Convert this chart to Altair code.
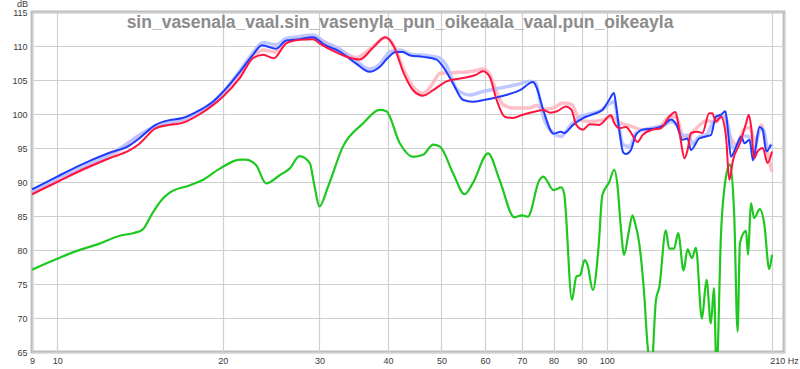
import altair as alt
import pandas as pd

TITLE = "sin_vasenala_vaal.sin_vasenyla_pun_oikeaala_vaal.pun_oikeayla"

# ---- blue (solid) ----
f_blue = [9, 10, 11.1, 12.45, 13.5, 14.1, 15.1, 16.0, 16.9, 18.2, 19.2, 20.0, 21.5, 22.7, 23.6, 25.0,
          26.1, 27.6, 29.2, 30.6, 32.6, 35.0, 37.0, 38.6, 40.0, 41.3, 42.5, 43.9, 46.3, 49.0, 50.3, 52.5,
          54.7, 57.0, 60.0, 65.6, 69.5, 73.4, 74.4, 76.6, 80.0, 82.5, 83.6, 86.8, 90.5, 93.1, 98.1, 101.0,
          103.0, 103.8, 105.3, 107.0, 108.3, 110.6, 112.9, 116.1, 122.8, 127.2, 130.7, 133.9, 137.3, 140.2,
          142.2, 147.2, 151.4, 154.6, 157.9, 161.3, 164.3, 165.9, 168.2, 171.9, 175.5, 178.0, 181.8, 184.4,
          189.6, 192.1, 195.0, 198.9]
db_blue = [88.9, 90.8, 92.6, 94.3, 95.3, 96.4, 98.4, 99.1, 99.4, 100.6, 101.8, 103.2, 106.2, 108.7, 110.1, 109.6,
           110.8, 111.0, 111.3, 110.2, 109.2, 107.4, 106.2, 106.9, 108.3, 109.1, 109.1, 108.6, 108.4, 108.0, 107.0, 104.5,
           102.1, 101.8, 102.1, 102.8, 103.5, 104.7, 104.0, 100.6, 97.1, 97.4, 97.2, 98.4, 99.4, 99.8, 100.6, 102.1,
           103.1, 101.6, 97.7, 94.4, 94.1, 94.7, 96.9, 97.7, 97.9, 98.4, 99.2, 98.4, 96.2, 96.4,
           94.7, 96.4, 96.7, 96.9, 99.6, 99.9, 100.4, 97.9, 93.7, 95.2, 96.7, 95.7, 96.2, 93.2,
           98.1, 97.7, 94.5, 95.5]

# ---- light blue (pale) ----
f_lblue = [9, 10, 12.45, 15.1, 16.9, 18.2, 20.0, 21.5, 22.7, 23.7, 25.0, 26.1, 27.6, 29.2, 30.6, 32.6, 35.0,
           37.0, 38.6, 40.4, 42.0, 44.0, 47.0, 49.5, 51.0, 53.4, 56.3, 59.5, 63.8, 68.4, 72.5, 74.2, 76.6, 80.0,
           82.6, 85.6, 89.4, 93.0, 98.0, 101.0, 103.0, 105.0, 107.0, 110.0, 113.0, 120.0, 127.0, 131.0, 134.0,
           137.5, 141.0, 143.0, 147.0, 152.0, 156.0, 160.0, 164.0, 166.5, 169.0, 173.0, 177.0, 182.0, 185.0,
           190.0, 193.0, 196.0, 199.5]
db_lblue = [88.6, 90.5, 94.0, 98.2, 99.2, 100.4, 103.1, 106.4, 109.0, 110.5, 110.2, 111.1, 111.4, 111.6, 110.6, 109.6, 107.8,
            106.6, 107.3, 109.2, 109.4, 108.8, 108.6, 108.3, 107.2, 103.6, 102.8, 103.3, 103.8, 104.3, 104.8, 104.6, 99.6, 97.2,
            96.7, 98.2, 99.6, 100.0, 100.6, 101.5, 101.8, 98.5, 95.5, 95.2, 97.2, 97.9, 98.3, 98.9, 98.4,
            96.8, 96.9, 95.6, 96.6, 97.0, 98.8, 99.5, 99.6, 98.0, 95.0, 95.6, 96.8, 96.6, 94.5,
            97.8, 97.6, 95.0, 95.6]

# ---- red (solid) ----
f_red = [9, 10, 11.1, 12.45, 13.5, 14.1, 15.1, 16.0, 16.9, 18.2, 19.2, 20.0, 21.5, 22.7, 23.7, 24.8, 26.1,
         27.6, 29.2, 30.0, 31.9, 33.4, 35.5, 37.5, 39.5, 41.0, 42.7, 44.4, 46.3, 48.3, 51.1, 54.7, 57.9, 59.5,
         61.2, 63.0, 65.2, 67.4, 70.3, 74.4, 76.6, 78.9, 81.2, 84.2, 86.2, 88.0, 90.5, 93.1, 96.8, 101.7,
         103.1, 105.3, 108.3, 111.3, 113.7, 116.1, 121.1, 125.4, 129.8, 133.2, 134.5, 136.4, 138.4, 140.2,
         142.2, 146.2, 149.2, 153.5, 155.5, 157.9, 161.3, 164.7, 167.0, 169.6, 174.6, 179.1, 181.2, 183.0,
         185.3, 188.0, 192.1, 196.0, 199.7]
db_red = [88.2, 90.0, 91.8, 93.5, 94.6, 95.6, 97.9, 98.4, 98.7, 100.0, 101.3, 102.5, 105.3, 108.2, 108.7, 108.2, 110.4,
          110.9, 111.0, 110.4, 109.2, 108.5, 108.0, 109.7, 111.3, 109.9, 106.0, 103.5, 102.7, 103.5, 104.8, 105.3, 105.8, 106.3,
          105.5, 102.1, 99.6, 99.4, 99.9, 100.4, 100.6, 100.2, 100.4, 101.1, 100.6, 98.4, 97.7, 98.5, 98.4, 99.8,
          98.7, 97.9, 98.1, 96.9, 95.9, 96.9, 97.7, 97.9, 99.6, 100.3, 99.1, 95.9, 93.5, 94.7,
          97.2, 97.4, 97.2, 100.1, 100.1, 98.9, 99.6, 96.7, 90.3, 93.2, 95.7, 98.6, 99.9, 98.1,
          93.5, 94.5, 95.0, 92.8, 94.5]

# ---- pink (pale) ----
f_pink = [9, 10, 12.45, 15.1, 16.9, 18.2, 20.0, 21.5, 22.7, 23.7, 25.0, 26.1, 27.6, 29.2, 30.5, 32.6, 35.0,
          37.5, 39.7, 41.0, 42.7, 44.4, 46.3, 48.3, 49.7, 53.4, 57.0, 59.5, 61.0, 63.0, 64.7, 67.4, 72.5, 74.4,
          76.6, 80.0, 83.0, 86.2, 89.4, 93.1, 98.0, 102.0, 105.0, 110.0, 116.0, 125.0, 130.0, 134.0, 137.0,
          140.0, 145.0, 152.0, 158.0, 162.0, 165.0, 168.0, 172.0, 178.0, 182.0, 186.0, 191.0, 195.0, 199.7]
db_pink = [88.4, 90.2, 93.7, 98.1, 98.9, 100.2, 102.8, 105.6, 108.4, 109.4, 109.1, 110.7, 111.1, 111.3, 110.7, 109.4, 108.3,
           109.9, 111.3, 110.0, 106.5, 104.0, 103.0, 104.6, 106.0, 106.1, 106.3, 106.6, 106.0, 103.3, 101.4, 100.9, 100.9, 101.3,
           100.7, 100.9, 101.6, 101.4, 99.1, 98.9, 99.1, 99.6, 98.8, 98.3, 97.7, 98.2, 99.6, 99.5, 97.0,
           96.5, 97.8, 99.0, 98.8, 99.7, 98.0, 96.5, 95.5, 97.8, 98.0, 96.0, 98.4, 95.0, 91.5]

# ---- green ----
f_green = [9, 10, 10.8, 11.9, 13.0, 13.8, 14.3, 14.9, 15.5, 16.0, 17.4, 18.4, 19.8, 21.5, 22.0, 23.0, 24.0,
           25.4, 26.5, 27.6, 28.8, 29.4, 30.0, 31.1, 33.1, 36.0, 38.6, 39.7, 42.0, 44.4, 46.3, 48.3, 49.7,
           52.5, 55.1, 57.0, 60.8, 63.8, 67.9, 70.0, 71.8, 75.4, 76.6, 80.0, 82.6, 83.6, 86.4, 88.0, 89.4,
           91.1, 92.2, 94.3, 96.6, 98.1, 101.0, 103.1, 104.6, 106.0, 107.5, 109.5, 111.3, 112.5, 114.5, 116.9,
           118.5, 120.5, 122.8, 124.6, 128.0, 129.8, 132.5, 134.8, 137.9, 140.2, 142.8, 145.2, 148.9, 151.8,
           154.6, 156.6, 158.3, 161.3, 164.7, 167.5, 170.5, 172.9, 174.6, 179.1, 180.7, 182.8, 185.3, 189.8,
           193.3, 197.4, 199.7]
db_green = [77.1, 78.7, 79.8, 80.9, 82.1, 82.5, 83.0, 85.4, 87.4, 88.4, 89.5, 90.3, 92.0, 93.3, 93.3, 92.5, 89.8,
            91.0, 92.0, 93.8, 92.8, 89.3, 86.4, 89.3, 95.2, 98.6, 100.6, 100.4, 95.7, 93.7, 94.0, 95.5, 95.2,
            91.3, 88.2, 89.8, 94.2, 90.3, 84.8, 85.1, 84.9, 90.3, 90.8, 88.8, 89.2, 88.3, 72.7, 76.1, 76.3,
            78.5, 77.8, 74.1, 80.5, 88.0, 90.0, 91.8, 89.3, 83.4, 79.3, 82.5, 85.1, 84.0, 81.0, 73.6,
            66.3, 62.5, 72.6, 74.6, 82.9, 80.2, 80.2, 82.5, 77.0, 80.1, 78.8, 80.3, 69.9, 75.6,
            69.2, 74.4, 62.0, 82.4, 90.8, 92.6, 85.0, 68.0, 81.0, 82.8, 79.3, 86.9, 84.7, 86.0,
            83.9, 77.2, 79.3]

x_ticks = [9, 10, 20, 30, 40, 50, 60, 70, 80, 90, 100, 200, 210]
y_ticks = [65, 70, 75, 80, 85, 90, 95, 100, 105, 110, 115]

FONT = "Liberation Sans"
LBL = "#3a3a3a"

xscale = alt.Scale(type="log", domain=[9, 210], nice=False)
yscale = alt.Scale(domain=[65, 115], nice=False, zero=False)

xaxis = alt.Axis(values=x_ticks, title=None, ticks=False, domain=False, labelPadding=4,
                 labelFont=FONT, labelFontSize=9, labelColor=LBL, labelFlush=False,
                 labelOverlap=False, gridColor="#cfcfcf", gridWidth=1.2,
                 labelExpr="datum.value == 200 ? '' : (datum.value == 210 ? '210 Hz' : format(datum.value, 'd'))")
yaxis = alt.Axis(values=y_ticks, title="dB", titleAngle=0, titleX=-10, titleY=-4,
                 titleAlign="center", titleBaseline="bottom",
                 titleFont=FONT, titleFontSize=9, titleFontWeight="normal", titleColor=LBL,
                 ticks=False, domain=False, labelPadding=5, labelFont=FONT, labelFontSize=9,
                 labelColor=LBL, gridColor="#cfcfcf", gridWidth=1.2, labelFlush=False)


def layer(f, d, color, width, opacity=1.0):
    df = pd.DataFrame({"f": f, "db": d})
    return alt.Chart(df).mark_line(color=color, strokeWidth=width, opacity=opacity,
                                   interpolate="monotone", clip=True).encode(
        x=alt.X("f:Q", scale=xscale, axis=xaxis),
        y=alt.Y("db:Q", scale=yscale, axis=yaxis),
    )


chart = alt.layer(
    layer(f_green, db_green, "#1ec81e", 2.2),
    layer(f_pink, db_pink, "#ffb4bc", 3.5, 0.85),
    layer(f_lblue, db_lblue, "#b4c0ff", 3.5, 0.85),
    layer(f_blue, db_blue, "#1e3cff", 2.0),
    layer(f_red, db_red, "#ff1440", 2.0),
).properties(
    width=752, height=340,
    autosize="none",
    padding={"left": 32, "top": 12, "right": 16, "bottom": 17},
    background="white",
    title=alt.TitleParams(TITLE, font=FONT, fontSize=17.5, fontWeight="bold", color="#8c8c8c",
                          anchor="middle", offset=-32, dx=-8, baseline="top"),
).configure_view(stroke="#bdbdbd", strokeWidth=3)

chart.save("out.html", embed_options={"renderer": "svg", "actions": False})
